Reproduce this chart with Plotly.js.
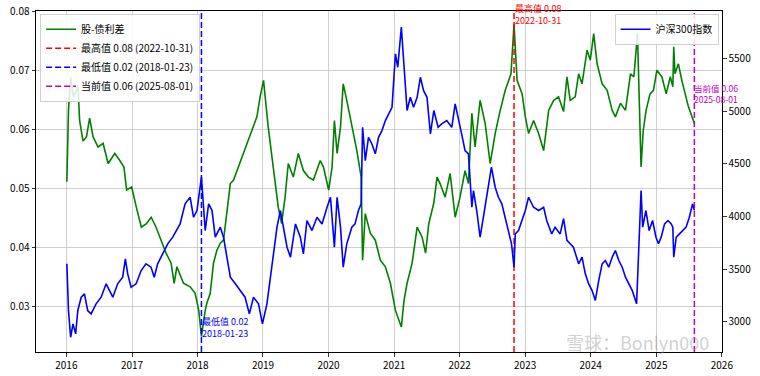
<!DOCTYPE html>
<html>
<head>
<meta charset="utf-8">
<script src="https://cdn.plot.ly/plotly-3.0.1.min.js"></script>
<style>html,body{margin:0;padding:0;background:#fff;}#chart{width:760px;height:376px;}</style>
</head>
<body>
<div id="chart"></div>
<script>
// 股-债利差 (left axis)
const spreadDates = [
'2016-01-04','2016-01-13','2016-01-25','2016-02-10','2016-03-06','2016-03-15','2016-04-03','2016-04-22','2016-05-10','2016-05-29',
'2016-06-26','2016-07-24','2016-08-21','2016-09-27','2016-10-25','2016-11-17','2016-12-02','2016-12-30','2017-01-25','2017-02-22',
'2017-03-22','2017-04-18','2017-05-15','2017-06-12','2017-07-10','2017-08-07','2017-08-24','2017-09-08','2017-10-15','2017-11-21',
'2017-12-19','2018-01-08','2018-01-23','2018-02-13','2018-02-22','2018-03-13','2018-03-31','2018-04-19','2018-05-08','2018-05-26',
'2018-06-14','2018-07-03','2018-07-21','2018-08-09','2018-09-06','2018-10-04','2018-11-01','2018-11-28','2018-12-16','2019-01-04',
'2019-01-30','2019-02-18','2019-03-09','2019-03-27','2019-04-15','2019-05-04','2019-05-22','2019-06-19','2019-07-17','2019-08-14',
'2019-09-11','2019-10-09','2019-11-16','2019-12-04','2020-01-02','2020-01-21','2020-02-03','2020-02-18','2020-03-08','2020-03-23',
'2020-04-12','2020-05-01','2020-05-19','2020-06-07','2020-07-01','2020-07-09','2020-07-24','2020-08-21','2020-09-18','2020-10-16',
'2020-11-13','2020-12-11','2021-01-08','2021-02-10','2021-02-25','2021-03-14','2021-04-11','2021-05-09','2021-06-06','2021-06-25',
'2021-07-13','2021-08-10','2021-08-28','2021-09-14','2021-10-12','2021-11-09','2021-12-07','2022-01-03','2022-01-31','2022-02-19',
'2022-03-10','2022-03-28','2022-04-25','2022-05-23','2022-06-20','2022-07-18','2022-08-15','2022-09-12','2022-10-14','2022-10-31',
'2022-11-17','2022-12-15','2023-01-02','2023-01-20','2023-02-17','2023-03-17','2023-04-14','2023-05-12','2023-06-09','2023-07-06',
'2023-08-03','2023-08-22','2023-09-09','2023-10-07','2023-10-26','2023-11-14','2023-12-12','2023-12-30','2024-01-18','2024-02-06',
'2024-03-05','2024-04-02','2024-04-30','2024-05-18','2024-06-15','2024-07-13','2024-08-10','2024-08-29','2024-09-18','2024-09-30',
'2024-10-08','2024-10-20','2024-11-05','2024-11-27','2024-12-16','2025-01-04','2025-02-01','2025-02-25','2025-03-20','2025-04-03',
'2025-04-08','2025-04-15','2025-05-04','2025-05-23','2025-06-11','2025-06-29','2025-08-01'
];
const spreadValues = [
0.0511,0.0632,0.0688,0.0655,0.0672,0.0615,0.0580,0.0587,0.0619,0.0587,
0.0570,0.0576,0.0542,0.0559,0.0547,0.0536,0.0497,0.0502,0.0468,0.0434,
0.0440,0.0451,0.0434,0.0412,0.0390,0.0373,0.0339,0.0367,0.0339,0.0333,
0.0322,0.0293,0.0249,0.0293,0.0305,0.0322,0.0373,0.0395,0.0407,0.0412,
0.0463,0.0508,0.0514,0.0530,0.0553,0.0576,0.0598,0.0621,0.0655,0.0683,
0.0604,0.0559,0.0508,0.0468,0.0440,0.0485,0.0542,0.0519,0.0559,0.0530,
0.0519,0.0514,0.0547,0.0536,0.0497,0.0536,0.0615,0.0559,0.0604,0.0677,
0.0649,0.0621,0.0593,0.0564,0.0519,0.0378,0.0457,0.0424,0.0412,0.0378,
0.0367,0.0339,0.0293,0.0265,0.0310,0.0339,0.0373,0.0434,0.0417,0.0390,
0.0440,0.0475,0.0519,0.0508,0.0485,0.0525,0.0451,0.0485,0.0530,0.0508,
0.0627,0.0570,0.0649,0.0610,0.0542,0.0593,0.0632,0.0666,0.0694,0.0778,
0.0683,0.0660,0.0621,0.0593,0.0615,0.0593,0.0564,0.0632,0.0649,0.0655,
0.0630,0.0689,0.0649,0.0655,0.0694,0.0677,0.0734,0.0717,0.0762,0.0711,
0.0677,0.0666,0.0632,0.0621,0.0644,0.0632,0.0694,0.0689,0.0762,0.0610,
0.0536,0.0598,0.0632,0.0660,0.0666,0.0700,0.0689,0.0660,0.0689,0.0672,
0.0740,0.0694,0.0711,0.0683,0.0660,0.0638,0.0610
];

// 沪深300指数 (right axis)
const indexDates = [
'2016-01-04','2016-01-13','2016-01-25','2016-02-07','2016-02-22','2016-03-05','2016-03-24','2016-04-11','2016-04-29','2016-05-18',
'2016-06-15','2016-07-13','2016-08-10','2016-08-29','2016-09-16','2016-10-13','2016-11-10','2016-11-25','2016-12-08','2016-12-27',
'2017-01-24','2017-02-21','2017-03-20','2017-04-17','2017-05-05','2017-05-24','2017-06-21','2017-07-19','2017-08-16','2017-09-04',
'2017-09-26','2017-10-24','2017-11-21','2017-12-10','2017-12-29','2018-01-23','2018-02-13','2018-03-04','2018-03-23','2018-04-10',
'2018-05-08','2018-05-26','2018-06-14','2018-07-03','2018-07-31','2018-08-27','2018-09-23','2018-10-17','2018-11-09','2018-12-07',
'2018-12-29','2019-01-23','2019-02-10','2019-03-01','2019-03-20','2019-04-08','2019-04-26','2019-05-15','2019-06-03','2019-07-01',
'2019-07-28','2019-08-14','2019-09-03','2019-10-01','2019-10-29','2019-11-26','2019-12-24','2020-01-12','2020-02-03','2020-02-18',
'2020-03-08','2020-03-23','2020-04-12','2020-05-10','2020-05-28','2020-06-16','2020-07-01','2020-07-09','2020-07-24','2020-08-11',
'2020-08-30','2020-09-18','2020-10-06','2020-10-25','2020-11-13','2020-12-01','2020-12-20','2021-01-08','2021-01-21','2021-02-10',
'2021-02-26','2021-03-14','2021-04-01','2021-04-19','2021-05-09','2021-05-27','2021-06-14','2021-07-03','2021-07-22','2021-08-10',
'2021-09-03','2021-09-23','2021-10-21','2021-11-18','2021-12-07','2021-12-25','2022-01-12','2022-01-31','2022-02-19','2022-03-10',
'2022-03-19','2022-04-06','2022-04-25','2022-05-13','2022-06-05','2022-06-27','2022-07-18','2022-08-05','2022-08-24','2022-09-12',
'2022-09-30','2022-10-17','2022-10-31','2022-11-07','2022-11-25','2022-12-14','2023-01-02','2023-01-20','2023-02-17','2023-03-17',
'2023-04-14','2023-05-01','2023-05-29','2023-06-17','2023-07-15','2023-08-03','2023-08-22','2023-09-09','2023-09-27','2023-10-26',
'2023-11-14','2023-12-02','2023-12-21','2024-01-09','2024-01-27','2024-02-15','2024-03-05','2024-03-23','2024-04-11','2024-04-30',
'2024-05-18','2024-06-06','2024-06-25','2024-07-13','2024-08-01','2024-08-20','2024-09-07','2024-09-13','2024-10-08','2024-10-17',
'2024-11-04','2024-11-22','2024-12-11','2024-12-30','2025-01-13','2025-01-28','2025-02-16','2025-03-07','2025-03-25','2025-04-03',
'2025-04-08','2025-04-22','2025-05-10','2025-05-28','2025-06-16','2025-07-04','2025-07-22','2025-08-01'
];
const indexValues = [
3552,3109,2855,2982,2887,3109,3235,3267,3109,3077,
3172,3235,3362,3298,3235,3362,3425,3600,3457,3330,
3362,3488,3552,3520,3425,3552,3647,3742,3805,3868,
3931,4121,4184,3994,4058,4374,3868,4121,4058,3805,
3900,3805,3615,3425,3362,3298,3235,3077,3235,3172,
2982,3172,3425,3678,3900,4058,3868,3710,3615,3931,
3805,3647,3963,3868,3994,3931,4089,4184,3710,4184,
3900,3520,3742,3900,3931,4058,4121,4848,4532,4753,
4690,4596,4753,4817,4912,4975,5038,5545,5418,5799,
5386,5007,5133,5038,5133,5323,5196,5133,4785,5007,
4848,4880,4912,4848,5070,4912,4785,4627,4596,4089,
4248,4058,3805,3994,4216,4469,4279,4184,4121,3994,
3868,3742,3520,3836,3868,3963,4058,4184,4089,4058,
4089,3963,3836,3900,3836,3980,3775,3742,3710,3552,
3615,3457,3362,3298,3204,3393,3552,3583,3520,3615,
3678,3583,3520,3425,3362,3298,3204,3172,4248,3900,
4058,3868,3963,3805,3742,3805,3931,3963,3930,3900,
3615,3805,3836,3868,3900,3994,4121,4058
];

const spreadName = '股-债利差';
const indexName = '沪深300指数';
const yLeftRange = [0.02225, 0.08005];
const yRightRange = [2715, 5952];

// derived: max / min / current
let iMax = 0, iMin = 0;
spreadValues.forEach((v, i) => { if (v > spreadValues[iMax]) iMax = i; if (v < spreadValues[iMin]) iMin = i; });
const iCur = spreadValues.length - 1;
const mk = (label, i) => label + ' ' + spreadValues[i].toFixed(2) + ' (' + spreadDates[i] + ')';

const FONT = 'Noto Sans CJK SC, DejaVu Sans, sans-serif';
const MAGENTA = '#bf00bf';

function vline(i, color, label) {
  return {
    x: [spreadDates[i], spreadDates[i]], y: yLeftRange, type: 'scatter', mode: 'lines',
    name: mk(label, i), yaxis: 'y', legend: 'legend',
    line: {color: color, width: 1.5, dash: '6px,3px'}, hoverinfo: 'skip'
  };
}

const traces = [
  {x: spreadDates, y: spreadValues, type: 'scatter', mode: 'lines', name: spreadName,
   line: {color: 'green', width: 1.6}, yaxis: 'y', legend: 'legend'},
  vline(iMax, 'red', '最高值'),
  vline(iMin, 'blue', '最低值'),
  vline(iCur, MAGENTA, '当前值'),
  {x: indexDates, y: indexValues, type: 'scatter', mode: 'lines', name: indexName,
   line: {color: 'blue', width: 1.6}, yaxis: 'y2', legend: 'legend2'}
];

const annFont = (c, s) => ({family: FONT, size: s || 9, color: c});
const axisCommon = {
  ticks: 'outside', ticklen: 3.5, tickcolor: '#000', tickwidth: 0.8,
  showline: true, linecolor: '#000', linewidth: 1, zeroline: false,
  tickfont: {family: FONT, size: 10, color: '#000'}
};
const layout = {
  width: 760, height: 376,
  margin: {l: 36, r: 38, t: 11, b: 24, pad: 0},
  paper_bgcolor: '#fff', plot_bgcolor: '#fff',
  font: {family: FONT, size: 10, color: '#000'},
  showlegend: true,
  xaxis: Object.assign({
    type: 'date', range: ['2015-07-16', '2026-01-02'],
    tick0: '2016-01-01', dtick: 'M12', tickformat: '%Y',
    showgrid: true, gridcolor: '#c4c4c4', gridwidth: 0.8, mirror: true
  }, axisCommon),
  yaxis: Object.assign({
    range: yLeftRange, tick0: 0, dtick: 0.01, tickformat: '.2f',
    showgrid: true, gridcolor: '#c4c4c4', gridwidth: 0.8, mirror: true
  }, axisCommon),
  yaxis2: Object.assign({
    range: yRightRange, overlaying: 'y', side: 'right', tick0: 0, dtick: 500,
    showgrid: false
  }, axisCommon),
  legend: {
    x: 0.006, y: 0.992, xanchor: 'left', yanchor: 'top',
    bgcolor: 'rgba(255,255,255,0.85)', bordercolor: '#d0d0d0', borderwidth: 1,
    font: {family: FONT, size: 10, color: '#000'}, tracegroupgap: 0, itemwidth: 30
  },
  legend2: {
    x: 0.995, y: 0.992, xanchor: 'right', yanchor: 'top',
    bgcolor: 'rgba(255,255,255,0.85)', bordercolor: '#d0d0d0', borderwidth: 1,
    font: {family: FONT, size: 10, color: '#000'}, itemwidth: 30
  },
  annotations: [
    {x: spreadDates[iMax], y: spreadValues[iMax], xref: 'x', yref: 'y', xanchor: 'left', yanchor: 'bottom', yshift: -4,
     text: '最高值 ' + spreadValues[iMax].toFixed(2) + '<br>' + spreadDates[iMax], showarrow: false, align: 'left',
     font: annFont('red'), borderpad: 0},
    {x: spreadDates[iMin], y: spreadValues[iMin], xref: 'x', yref: 'y', xanchor: 'left', yanchor: 'bottom', yshift: -5,
     text: '最低值 ' + spreadValues[iMin].toFixed(2) + '<br>' + spreadDates[iMin], showarrow: false, align: 'left',
     font: annFont('blue'), borderpad: 0},
    {x: spreadDates[iCur], y: spreadValues[iCur], xref: 'x', yref: 'y', xanchor: 'left', yanchor: 'bottom', yshift: 17, xshift: -1,
     text: '当前值 ' + spreadValues[iCur].toFixed(2) + '<br>' + spreadDates[iCur], showarrow: false, align: 'left',
     font: annFont(MAGENTA, 8.5), borderpad: 0},
    {x: 0.77, y: 0.03, xref: 'paper', yref: 'paper', xanchor: 'left', yanchor: 'middle',
     text: '雪球：Bonlyn000', showarrow: false,
     font: {family: FONT, size: 18, color: 'rgba(150,150,150,0.45)'}}
  ]
};

Plotly.newPlot('chart', traces, layout, {staticPlot: true, displayModeBar: false});
</script>
</body>
</html>
